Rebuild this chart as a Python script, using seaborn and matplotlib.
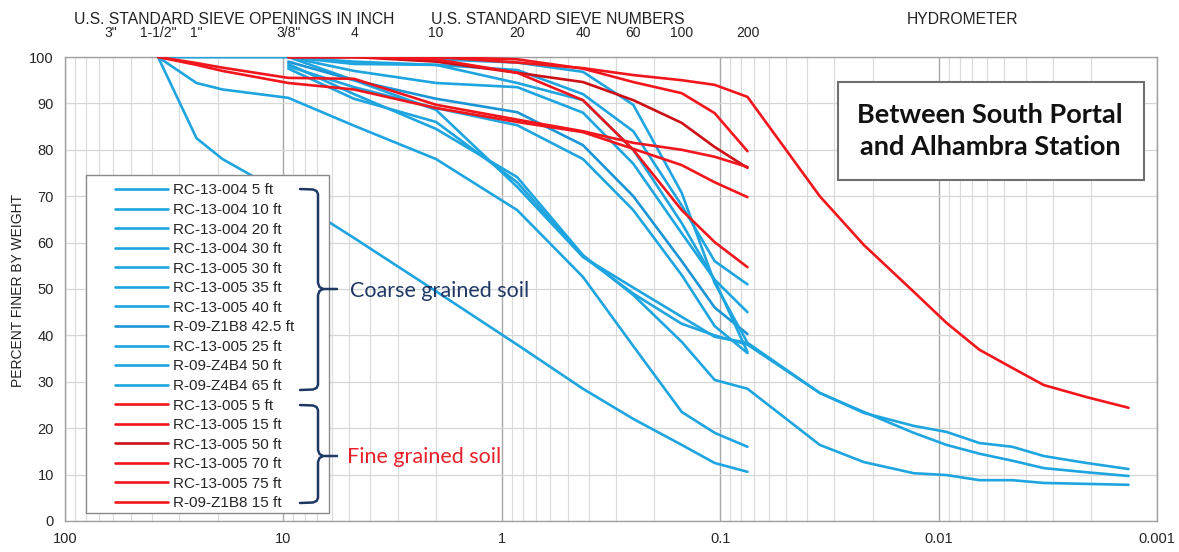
import matplotlib
matplotlib.use("Agg")
import matplotlib.pyplot as plt
import seaborn as sns
import pandas as pd
from matplotlib.lines import Line2D
from matplotlib.patches import Rectangle
from matplotlib.ticker import LogLocator, FuncFormatter, NullFormatter, FixedLocator
from matplotlib import font_manager

# ---------------- data ----------------
sieve_mm = [37.5, 25, 19, 9.5, 4.75, 2.0, 0.85, 0.425, 0.25, 0.15, 0.106, 0.075]
hydro_mm = [0.035, 0.022, 0.013, 0.0092, 0.0065, 0.0046, 0.0033, 0.0021, 0.00135]

N = None
# coarse grained (blue)
rc13004_5 = [100, 82.5, 78, 70, 61, 49.5, 38, 28.5, 22, 16.4, 12.5, 10.6]
rc13004_10 = [100, 94.4, 93, 91.2, 85.2, 78, 67, 52.6, 37.7, 23.5, 19, 16]
rc13004_20 = [N, N, N, 98.5, 92, 84.5, 74.1, 57.3, 48.7, 38.6, 30.4, 28.5]
rc13004_20_h = [16.4, 12.7, 10.3, 9.9, 8.8, 8.8, 8.2, 8.0, 7.8]
rc13004_30 = [N, N, N, 100, 95, 88.6, 72, 56.9, 50.3, 44, 39.7, 38.4]
rc13004_30_h = [27.6, 23.3, 20.5, 19.2, 16.8, 16, 14, 12.5, 11.2]
rc13005_30 = [N, N, N, 97.5, 91, 86, 73, 57, 49, 42.5, 40, 38]
rc13005_30_h = [27.6, 23.5, 19, 16.4, 14.5, 13, 11.4, 10.5, 9.7]
rc13005_35 = [100, 100, 100, 100, 98.5, 98.3, 97.2, 92, 84, 68, 56, 51]
rc13005_40 = [N, N, N, 100, 97, 94.4, 93.5, 88, 77, 62, 52, 45]
r09z1b8_425 = [N, N, N, 99, 95, 91, 88.1, 81, 70, 56, 46, 40.3]
rc13005_25 = [N, N, N, 98, 93.5, 89, 85.3, 78, 67, 53, 42, 36.2]
r09z4b4_50 = [100, 100, 100, 100, 100, 99.5, 98.8, 96.8, 89.7, 70.7, 51.3, 38.4]
r09z4b4_65 = [N, N, N, 100, 99, 98.3, 94.4, 90.7, 80, 64.2, 51.9, 36.4]
# fine grained (red)
rc13005_5 = [N, N, N, 100, 100, 100, 98.8, 97.6, 96.1, 95, 94, 91.4]
rc13005_5_h = [70, 59.5, 49.4, 42.7, 36.9, 33, 29.3, 26.7, 24.4]
rc13005_15 = [N, N, N, 100, 100, 100, 99.5, 97.5, 94.6, 92.2, 87.9, 79.7]
rc13005_50 = [N, N, N, 100, 100, 99, 96.6, 94.6, 90.7, 85.8, 80.6, 76.1]
rc13005_70 = [100, 98.7, 97.7, 95.5, 95.3, 89.7, 86.5, 84, 81.5, 80, 78.5, 76.3]
rc13005_75 = [100, 98.3, 97, 94.4, 93, 89, 86, 83.8, 80.2, 76.7, 73, 69.8]
r09z1b8_15 = [N, N, N, 100, 100, 99.5, 96.6, 90.7, 80, 67, 60.1, 54.7]

coarse_labels = ["RC-13-004 5 ft", "RC-13-004 10 ft", "RC-13-004 20 ft", "RC-13-004 30 ft",
                 "RC-13-005 30 ft", "RC-13-005 35 ft", "RC-13-005 40 ft", "R-09-Z1B8 42.5 ft",
                 "RC-13-005 25 ft", "R-09-Z4B4 50 ft", "R-09-Z4B4 65 ft"]
fine_labels = ["RC-13-005 5 ft", "RC-13-005 15 ft", "RC-13-005 50 ft", "RC-13-005 70 ft",
               "RC-13-005 75 ft", "R-09-Z1B8 15 ft"]

series = {
    "RC-13-004 5 ft": (rc13004_5, None),
    "RC-13-004 10 ft": (rc13004_10, None),
    "RC-13-004 20 ft": (rc13004_20, rc13004_20_h),
    "RC-13-004 30 ft": (rc13004_30, rc13004_30_h),
    "RC-13-005 30 ft": (rc13005_30, rc13005_30_h),
    "RC-13-005 35 ft": (rc13005_35, None),
    "RC-13-005 40 ft": (rc13005_40, None),
    "R-09-Z1B8 42.5 ft": (r09z1b8_425, None),
    "RC-13-005 25 ft": (rc13005_25, None),
    "R-09-Z4B4 50 ft": (r09z4b4_50, None),
    "R-09-Z4B4 65 ft": (r09z4b4_65, None),
    "RC-13-005 5 ft": (rc13005_5, rc13005_5_h),
    "RC-13-005 15 ft": (rc13005_15, None),
    "RC-13-005 50 ft": (rc13005_50, None),
    "RC-13-005 70 ft": (rc13005_70, None),
    "RC-13-005 75 ft": (rc13005_75, None),
    "R-09-Z1B8 15 ft": (r09z1b8_15, None),
}

opening_labels = ['3"', '1-1/2"', '1"', '3/8"', '4']
opening_pos_mm = [62, 37.5, 25, 9.5, 4.75]
number_labels = ['10', '20', '40', '60', '100', '200']
number_pos_mm = [2.0, 0.85, 0.425, 0.25, 0.15, 0.075]

# ---------------- build frame ----------------
rows = []
for name, (sv, hv) in series.items():
    for s, p in zip(sieve_mm, sv):
        if p is not None:
            rows.append((name, s, p))
    if hv is not None:
        for s, p in zip(hydro_mm, hv):
            rows.append((name, s, p))
df = pd.DataFrame(rows, columns=["sample", "size", "pct"])

BLUE = "#1ea5e0"
BLUE2 = "#1b95d6"
RED = "#f0161c"
RED2 = "#cc1016"
palette = {lab: BLUE for lab in coarse_labels}
palette["R-09-Z1B8 42.5 ft"] = BLUE2
palette.update({lab: RED for lab in fine_labels})
palette["RC-13-005 50 ft"] = RED2

# ---------------- style ----------------
sns.set_style("white")
names = {f.name for f in font_manager.fontManager.ttflist}
plt.rcParams["font.family"] = ["Liberation Sans", "DejaVu Sans"]
narrow = "Liberation Sans Narrow" if "Liberation Sans Narrow" in names else "Liberation Sans"
callig = "Lato" if "Lato" in names else "DejaVu Sans"

W, H = 1179, 552
fig = plt.figure(figsize=(W / 100, H / 100), dpi=100)
L, R, T, B = 65, 1157, 57, 521
ax = fig.add_axes([L / W, (H - B) / H, (R - L) / W, (B - T) / H])

def axp(xp, yp):
    return ((xp - L) / (R - L), (B - yp) / (B - T))

order = coarse_labels + fine_labels
sns.lineplot(data=df, x="size", y="pct", hue="sample", hue_order=order, palette=palette,
             estimator=None, linewidth=1.9, ax=ax, legend=False, zorder=3)

ax.set_xscale("log")
ax.set_xlim(100, 0.001)
ax.set_ylim(0, 100)
ax.xaxis.set_major_locator(LogLocator(base=10, numticks=12))
ax.xaxis.set_minor_locator(LogLocator(base=10, subs=range(2, 10), numticks=12))
ax.xaxis.set_major_formatter(FuncFormatter(lambda v, p: f"{v:g}"))
ax.xaxis.set_minor_formatter(NullFormatter())
ax.yaxis.set_major_locator(FixedLocator(range(0, 101, 10)))
ax.grid(which="major", axis="x", color="#a8a8a8", lw=1.0)
ax.grid(which="minor", axis="x", color="#dadada", lw=0.8)
ax.grid(which="major", axis="y", color="#d6d6d6", lw=0.9)
ax.set_axisbelow(True)
for sp in ax.spines.values():
    sp.set_color("#a0a0a0")
    sp.set_linewidth(1.0)
ax.tick_params(axis="both", which="major", length=4, color="#a0a0a0", labelsize=10.5, pad=4)
ax.tick_params(axis="x", which="minor", length=3, color="#a0a0a0")
for lab in ax.get_xticklabels() + ax.get_yticklabels():
    lab.set_fontfamily(narrow)
ax.set_xlabel("")
ax.set_ylabel("")
fig.text(18 / W, 1 - 290 / H, "PERCENT FINER BY WEIGHT", rotation=90, ha="center", va="center",
         fontsize=10, color="#222222")

# top headers and sieve labels
hy = (B - 19) / (B - T)
ny = (B - 33) / (B - T)
for txt, xp in [("U.S. STANDARD SIEVE OPENINGS IN INCH", 234),
                ("U.S. STANDARD SIEVE NUMBERS", 558), ("HYDROMETER", 963)]:
    ax.text(axp(xp, 0)[0], hy, txt, transform=ax.transAxes, ha="center", va="center",
            fontsize=11.3, color="#222222")
tr = ax.get_xaxis_transform()
for lab, pos in zip(opening_labels + number_labels, opening_pos_mm + number_pos_mm):
    ax.text(pos, ny, lab, transform=tr, ha="center", va="center", fontsize=10,
            family=narrow, color="#222222")

# legend box
x0, y0 = axp(86, 513)
x1, y1 = axp(329, 175)
ax.add_patch(Rectangle((x0, y0), x1 - x0, y1 - y0, transform=ax.transAxes, facecolor="white",
                       edgecolor="#8a8a8a", lw=1.0, zorder=5))
handles = [Line2D([], [], color=palette[l], lw=1.9) for l in order]
leg = ax.legend(handles, order, loc="upper left", bbox_to_anchor=axp(115, 183.5),
                frameon=False, fontsize=11, handlelength=3.47, handletextpad=0.33,
                labelspacing=0.363, borderpad=0, borderaxespad=0)
leg.set_zorder(6)

# brackets
NAVY = "#1f3864"
def bracket(ytop, ymid, ybot):
    up = [(300, ytop), (313, ytop + 0.5), (316.5, ytop + 2), (318, ytop + 5), (318, ymid - 6),
          (319.5, ymid - 2), (323, ymid), (337, ymid)]
    dn = [(323, ymid), (319.5, ymid + 2), (318, ymid + 6), (318, ybot - 5), (316.5, ybot - 2),
          (313, ybot - 0.5), (300, ybot)]
    for pts in (up, dn):
        xs, ys = zip(*[axp(px, py) for px, py in pts])
        ax.add_line(Line2D(xs, ys, transform=ax.transAxes, color=NAVY, lw=1.8, zorder=7,
                           solid_capstyle="round", solid_joinstyle="round"))
bracket(189, 289, 390)
bracket(405, 456, 503)
ax.text(*axp(350, 291), "Coarse grained soil", transform=ax.transAxes, ha="left", va="center",
        fontsize=15.5, color=NAVY, family=callig, zorder=7)
ax.text(*axp(347, 457), "Fine grained soil", transform=ax.transAxes, ha="left", va="center",
        fontsize=15.5, color="#e8202a", family=callig, zorder=7)

# title box
bx0, by0 = axp(838, 180)
bx1, by1 = axp(1144, 82)
ax.add_patch(Rectangle((bx0, by0), bx1 - bx0, by1 - by0, transform=ax.transAxes, facecolor="white",
                       edgecolor="#707070", lw=1.5, zorder=5))
ax.text(*axp(990, 131), "Between South Portal\nand Alhambra Station", transform=ax.transAxes,
        ha="center", va="center", fontsize=19.5, fontweight="bold", family=callig,
        linespacing=1.4, color="#111111", zorder=6)

fig.savefig("out.png", dpi=100)
